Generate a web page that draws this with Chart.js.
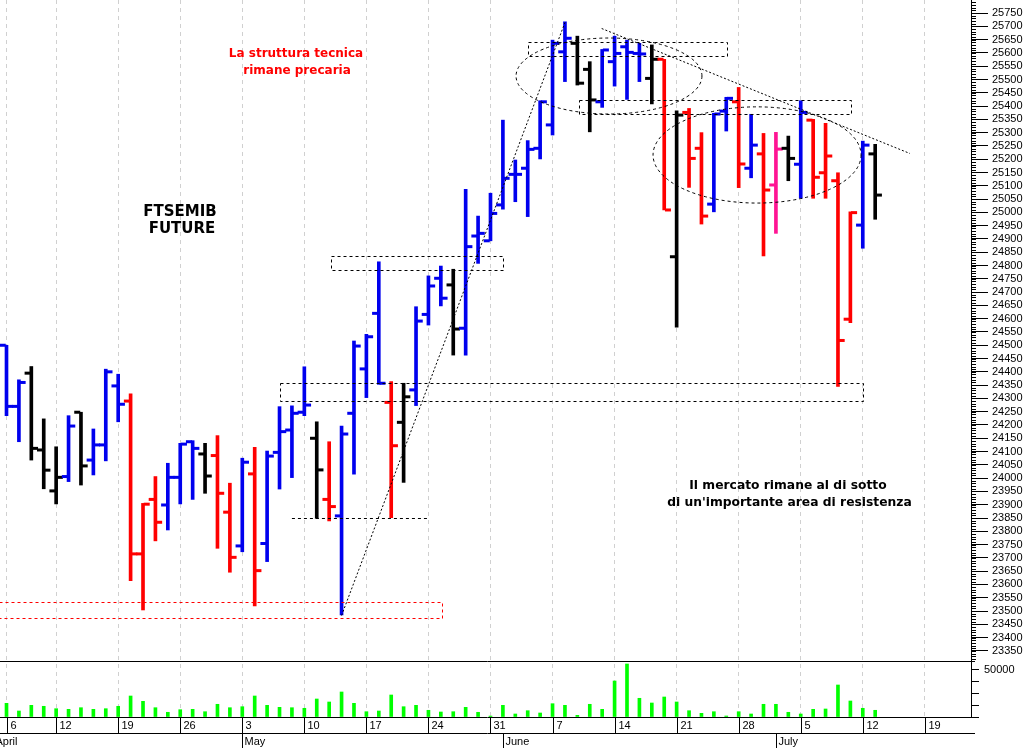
<!DOCTYPE html>
<html>
<head>
<meta charset="utf-8">
<title>FTSEMIB Future</title>
<script src="https://cdn.jsdelivr.net/npm/chart.js@4.4.0/dist/chart.umd.min.js"></script>
<style>
html, body { margin: 0; padding: 0; background: #fff; }
#wrap { position: relative; width: 1030px; height: 748px; }
</style>
</head>
<body>
<div id="wrap"><canvas id="chart" width="1030" height="748"></canvas></div>
<script>
// daily bars, index 0 = Tue 6 April 2021 ... index 70 = Tue 13 July 2021
const opens = [24500,24270,24395,24106,23952,24006,24248,24068,24125,24347,
  24290,23715,23920,23899,24003,24137,24091,24085,23872,23745,
  24016,23754,24097,24181,24248,24150,23920,23858,24244,24411,
  24620,24285,24210,24332,24616,24752,24727,24564,24911,24893,
  25028,25143,25166,25241,25329,25604,25636,25538,25416,25567,
  25623,25598,25504,25576,24833,25376,25241,25031,25381,25416,
  25166,25220,25103,25241,25181,25347,25149,25119,24598,24952,25220];
const highs = [24500,24370,24420,24223,24118,24235,24248,24185,24410,24391,
  24317,23905,24006,24056,24131,24141,24131,24160,23981,24075,
  24116,24102,24269,24272,24419,24212,24137,24196,24516,24541,
  24814,24363,24357,24645,24761,24798,24786,25087,24986,25072,
  25347,25197,25270,25420,25648,25717,25663,25567,25613,25663,
  25648,25636,25630,25576,25382,25391,25300,25373,25433,25470,
  25369,25297,25301,25287,25420,25350,25335,25149,25002,25268,25256];
const lows = [24235,24137,24068,23960,23903,23987,23974,24012,24065,24212,
  23614,23504,23764,23805,23903,23920,23943,23736,23646,23723,
  23519,23686,23959,24002,24235,23849,23839,23485,24015,24303,
  24353,23851,23984,24273,24576,24648,24463,24463,24808,24893,
  25012,25040,24984,25201,25291,25492,25479,25303,25395,25475,
  25425,25492,25408,25009,24568,25094,24956,25002,25306,25093,
  25130,24836,24921,25119,25053,25053,25053,24345,24585,24865,24974];
const closes = [24270,24360,24112,24030,24003,24196,24046,24125,24400,24278,
  23715,23902,23834,24003,24128,24112,24008,23943,23702,24060,
  23652,24083,24175,24244,24275,24031,23893,24166,24497,24532,
  24357,24122,24306,24591,24723,24677,24561,24871,24921,24996,
  25128,25143,25237,25416,25636,25655,25486,25423,25611,25598,
  25602,25596,25576,25009,25366,25203,24986,25370,25429,25182,
  25253,25084,25238,25203,25376,25132,25212,24518,24999,25253,25065];
const volumes = [14450,6330,12340,11290,8760,8120,9810,8120,8760,11290,
  22150,16560,9810,4960,7700,8120,5590,13400,9810,10870,
  22150,12340,10230,9810,9180,18990,15830,26380,14450,5590,
  6330,23210,10870,12340,7070,5280,5590,10230,4960,1000,
  12340,3170,6650,4220,14030,12340,1790,13400,8120,37980,
  55920,19730,14770,21100,15830,6650,3900,5590,1060,5590,
  3170,13400,13400,4960,3170,8120,8440,33760,16880,9180,7070];
// bar signal: u = rising (blue), d = falling (red), n = neutral (black), p = pink
const signal = 'uunnnunuuu' + 'ddduuunddu' + 'duuuunduuu' + 'udnuuunuuu' +
  'uuuuuunnuu' + 'uundndduud' + 'udpnuddddu' + 'n';

// x axis: first trading day of each week and the month starts
const weekStart = [0,4,9,14,19,24,29,34,39,44,49,54,59,64,69,74];
const weekLabels = ['6','12','19','26','3','10','17','24','31','7','14','21','28','5','12','19'];
const monthStart = [-1.05,19,40,62];
const monthLabels = ['April','May','June','July'];
const volTicks = [0,12500,25000,37500,50000];
</script>
<script>
const tones = { u: '#0000ee', d: '#ff0000', n: '#000000', p: '#ff1493' };
const barColors = signal.split('').map(c => tones[c]);
const idx = opens.map((_, i) => i);

// drawings of the analyst, in (trading day, price) units
const boxes = [
  { x0: -0.6, x1: 35.07, p0: 23473, p1: 23533, color: '#ff0000' },
  { x0: 22.04, x1: 69.04, p0: 24290, p1: 24357, color: '#000' },
  { x0: 26.12, x1: 39.95, p0: 24783, p1: 24837, color: '#000' },
  { x0: 42.05, x1: 58.08, p0: 25588, p1: 25642, color: '#000' },
  { x0: 46.15, x1: 68.03, p0: 25370, p1: 25423, color: '#000' }
];
const segments = [
  { x0: 23, p0: 23849, x1: 34, p1: 23849, dash: [3, 3] },
  { x0: 27, p0: 23485, x1: 45, p1: 25717, dash: [2, 2] },
  { x0: 47.96, p0: 25692, x1: 72.8, p1: 25223, dash: [2, 2] }
];
const ellipses = [
  { cx: 48.55, cp: 25513, rx: 7.49, rp: 143 },
  { cx: 60.48, cp: 25216, rx: 8.38, rp: 181 }
];
const notes = [
  { x: 23.33, p: 25595, text: 'La struttura tecnica', color: '#ff0000', size: 12 },
  { x: 23.41, p: 25533, text: 'rimane precaria', color: '#ff0000', size: 12 },
  { x: 13.98, p: 25001, text: 'FTSEMIB', color: '#000', size: 15 },
  { x: 14.14, p: 24936, text: 'FUTURE', color: '#000', size: 15 },
  { x: 62.97, p: 23970, text: 'Il mercato rimane al di sotto', color: '#000', size: 12.3 },
  { x: 63.09, p: 23907, text: "di un'importante area di resistenza", color: '#000', size: 12.3 }
];

const overlay = {
  id: 'overlay',
  afterDatasetsDraw(chart) {
    const ctx = chart.ctx, xs = chart.scales.x, ys = chart.scales.y;
    const X = v => xs.getPixelForValue(v), Y = v => ys.getPixelForValue(v);
    ctx.save();
    ctx.beginPath();
    ctx.rect(0, ys.top, xs.right, ys.bottom - ys.top);
    ctx.clip();
    ctx.lineWidth = 1;
    boxes.forEach(b => {
      ctx.strokeStyle = b.color;
      ctx.setLineDash([3, 3]);
      ctx.strokeRect(Math.round(X(b.x0)) + 0.5, Math.round(Y(b.p1)) + 0.5,
        Math.round(X(b.x1) - X(b.x0)), Math.round(Y(b.p0) - Y(b.p1)));
    });
    ctx.strokeStyle = '#000';
    segments.forEach(s => {
      ctx.setLineDash(s.dash);
      ctx.beginPath();
      ctx.moveTo(X(s.x0), Math.round(Y(s.p0)) + 0.5);
      ctx.lineTo(X(s.x1), Math.round(Y(s.p1)) + 0.5);
      ctx.stroke();
    });
    ctx.setLineDash([3, 3]);
    ellipses.forEach(e => {
      ctx.beginPath();
      ctx.ellipse(X(e.cx), Y(e.cp), X(e.cx + e.rx) - X(e.cx), Y(e.cp - e.rp) - Y(e.cp), 0, 0, Math.PI * 2);
      ctx.stroke();
    });
    ctx.setLineDash([]);
    ctx.textAlign = 'center';
    ctx.textBaseline = 'middle';
    notes.forEach(n => {
      ctx.fillStyle = n.color;
      ctx.font = 'bold ' + n.size + 'px "DejaVu Sans"';
      ctx.fillText(n.text, X(n.x), Y(n.p));
    });
    ctx.restore();
  },
  afterDraw(chart) {
    const ctx = chart.ctx, xs = chart.scales.x, ys = chart.scales.y;
    const X = v => Math.round(xs.getPixelForValue(v)) + 0.5;
    const base = chart.chartArea.bottom;
    const right = xs.right + 4;
    ctx.save();
    ctx.strokeStyle = '#000';
    ctx.lineWidth = 1;
    ctx.beginPath();
    // panel separator and label rows
    ctx.moveTo(0, Math.round(ys.bottom) + 0.5); ctx.lineTo(right, Math.round(ys.bottom) + 0.5);
    ctx.moveTo(0, base + 0.5); ctx.lineTo(right, base + 0.5);
    ctx.moveTo(0, base + 16.5); ctx.lineTo(right, base + 16.5);
    weekStart.forEach(v => { ctx.moveTo(X(v), base); ctx.lineTo(X(v), base + 16); });
    monthStart.forEach(v => { ctx.moveTo(X(v), base + 16); ctx.lineTo(X(v), 748); });
    // minor ticks of the price scale
    for (let p = 23320; p <= 25790; p += 10) {
      const y = Math.round(ys.getPixelForValue(p)) + 0.5;
      ctx.moveTo(xs.right, y); ctx.lineTo(xs.right + 5, y);
    }
    ctx.stroke();
    ctx.fillStyle = '#000';
    ctx.font = '11px "Liberation Sans"';
    ctx.textBaseline = 'middle';
    ctx.textAlign = 'left';
    weekStart.forEach((v, i) => ctx.fillText(weekLabels[i], X(v) + 3, base + 9));
    monthStart.forEach((v, i) => ctx.fillText(monthLabels[i], X(v) + 2, base + 24.5));
    ctx.restore();
  }
};

const ctx = document.getElementById('chart').getContext('2d');
const myChart = new Chart(ctx, {
  type: 'bar',
  data: {
    datasets: [
      {
        type: 'bar', yAxisID: 'y',
        data: idx.map(i => ({ x: i, y: [lows[i], highs[i]] })),
        backgroundColor: barColors, barThickness: 3, grouped: false, borderWidth: 0
      },
      {
        type: 'line', yAxisID: 'y', showLine: false,
        data: idx.map(i => ({ x: i - 0.3, y: opens[i] })),
        pointStyle: 'line', pointRadius: 3, pointBorderWidth: 3, pointBorderColor: barColors
      },
      {
        type: 'line', yAxisID: 'y', showLine: false,
        data: idx.map(i => ({ x: i + 0.3, y: closes[i] })),
        pointStyle: 'line', pointRadius: 3, pointBorderWidth: 3, pointBorderColor: barColors
      },
      {
        type: 'bar', yAxisID: 'yv',
        data: idx.map(i => ({ x: i, y: volumes[i] })),
        backgroundColor: '#00ff00', barThickness: 3, grouped: false, borderWidth: 0
      }
    ]
  },
  options: {
    responsive: false,
    animation: false,
    events: [],
    layout: { padding: 0, autoPadding: false },
    plugins: { legend: { display: false }, tooltip: { enabled: false } },
    scales: {
      x: {
        type: 'linear', min: -0.524, max: 77.72, offset: false,
        afterBuildTicks(s) { s.ticks = weekStart.map(v => ({ value: v })); },
        afterFit(s) { s.height = 31; s.paddingLeft = 0; s.paddingRight = 0; },
        ticks: { display: false },
        grid: { color: '#d0d0d0', drawTicks: false, offset: false },
        border: { display: false, dash: [4, 4] }
      },
      y: {
        position: 'right', stack: 'panels', stackWeight: 661,
        min: 23312, max: 25799,
        afterFit(s) { s.width = 59; s.paddingTop = 0; s.paddingBottom = 0; },
        ticks: {
          stepSize: 50, includeBounds: false, autoSkip: false, padding: 4,
          color: '#000', font: { family: 'Liberation Sans', size: 11 },
          callback: v => String(v)
        },
        grid: { drawOnChartArea: false, tickLength: 17, tickColor: '#000' },
        border: { color: '#000' }
      },
      yv: {
        position: 'right', stack: 'panels', stackWeight: 56,
        min: 0, max: 59070,
        afterBuildTicks(s) { s.ticks = volTicks.map(v => ({ value: v })); },
        afterFit(s) { s.width = 59; s.paddingTop = 0; s.paddingBottom = 0; },
        ticks: {
          autoSkip: false, padding: 5, color: '#000',
          font: { family: 'Liberation Sans', size: 11 },
          callback: v => (v === 50000 ? '50000' : '')
        },
        grid: { drawOnChartArea: false, tickLength: 8, tickColor: '#000' },
        border: { color: '#000' }
      }
    }
  },
  plugins: [overlay]
});
</script>
</body>
</html>
